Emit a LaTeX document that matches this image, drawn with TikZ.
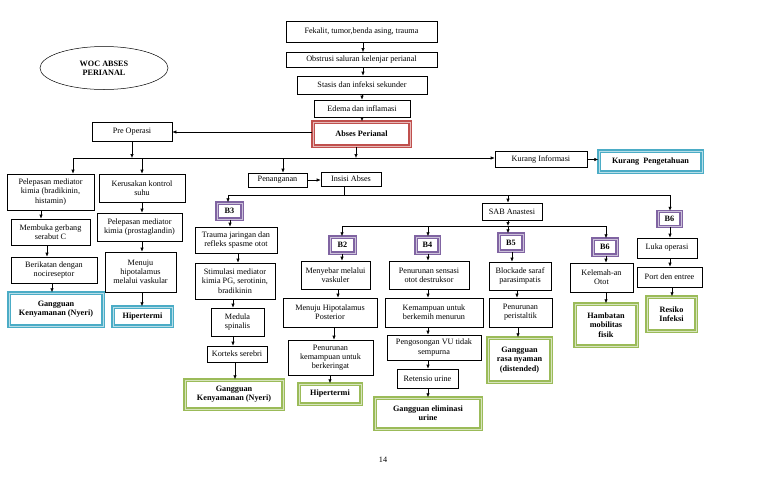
\documentclass[tikz,border=0pt]{standalone}
\usepackage{fontspec}
\setmainfont{Liberation Serif}
\usetikzlibrary{arrows.meta,shapes.geometric}
\definecolor{cred}{HTML}{C0504D}
\definecolor{cblue}{HTML}{4BACC6}
\definecolor{cgreen}{HTML}{9BBB59}
\definecolor{cpurple}{HTML}{8064A2}
\newcommand\fs{\fontsize{8.2pt}{9.2pt}\selectfont}
\newcommand\vconn[3]{\draw[arr] (#1,0 |- #2.south) -- (#1,0 |- #3.north);}
\begin{document}
\begin{tikzpicture}[x=1pt,y=-1pt,
  box/.style={draw=black, line width=0.6pt, align=center, inner sep=1pt, font=\fs, text=black},
  colbox/.style={box, draw=#1, line width=1.5pt, double=#1!40, double distance=0.9pt, font=\fs\bfseries},
  wh/.style 2 args={minimum width=#1pt, minimum height=#2pt},
  ell/.style={ellipse, draw, line width=0.5pt, minimum width=128pt, minimum height=43pt, font=\fs\bfseries, align=center, inner sep=0pt},
  arr/.style={-{Latex[length=4pt,width=3.4pt]}, line width=0.6pt},
  ln/.style={line width=0.6pt}]
\fill[white] (0,0) rectangle (768,501);
\useasboundingbox (0,0) rectangle (768,501);

% title
\node[ell] (woc) at (104,68) {WOC ABSES\\PERIANAL};

% top chain
\node[box, wh={151}{21}] (fek) at (361.5,31.5) {Fekalit, tumor,benda asing, trauma};
\node[box, wh={151}{15}] (obs) at (361.5,60) {Obstrusi saluran kelenjar perianal};
\node[box, wh={130}{18}] (sta) at (362,85) {Stasis dan infeksi sekunder};
\node[box, wh={96}{17}] (ede) at (362,108.5) {Edema dan inflamasi};
\node[colbox=cred, wh={97}{24}] (abs) at (361.5,134) {Abses Perianal};
\node[box, wh={80}{19}] (pre) at (132,132) {Pre Operasi};
\node[box, wh={92}{16}] (ki) at (541,159.5) {Kurang Informasi};
\node[colbox=cblue, wh={103}{21}] (kp) at (650.5,161.5) {Kurang\ \ Pengetahuan};

% left column 1
\node[box, wh={87}{36}] (pel1) at (50.5,192) {Pelepasan mediator\\kimia (bradikinin,\\histamin)};
\node[box, wh={79}{26}] (mem) at (50.5,232) {Membuka gerbang\\serabut C};
\node[box, wh={86}{26}] (ber) at (54,270) {Berikatan dengan\\nocireseptor};
\node[colbox=cblue, wh={94}{33}] (gk1) at (56,309.5) {Gangguan\\Kenyamanan (Nyeri)};

% left column 2
\node[box, wh={86}{28}] (ker) at (142,188) {Kerusakan kontrol\\suhu};
\node[box, wh={85}{28}] (pel2) at (139.5,227) {Pelepasan mediator\\kimia (prostaglandin)};
\node[box, wh={71}{40}] (men1) at (140.5,272) {Menuju\\hipotalamus\\melalui vaskular};
\node[colbox=cblue, wh={59}{19}] (hip1) at (142.5,316.5) {Hipertermi};

% penanganan
\node[box, wh={59}{14}] (pen) at (277.5,180) {Penanganan};
\node[box, wh={60}{14}] (ins) at (351,179) {Insisi Abses};

% B3
\node[colbox=cpurple, wh={25}{16}] (b3) at (229.5,211) {B3};
\node[box, wh={82}{26}] (tra) at (236,240) {Trauma jaringan dan\\refleks spasme otot};
\node[box, wh={80}{36}] (sti) at (235,281) {Stimulasi mediator\\kimia PG, serotinin,\\bradikinin};
\node[box, wh={53}{28}] (med) at (237.5,322) {Medula\\spinalis};
\node[box, wh={60}{16}] (kor) at (237,354) {Korteks serebri};
\node[colbox=cgreen, wh={98}{29}] (gk2) at (234,394.5) {Gangguan\\Kenyamanan (Nyeri)};

% B2
\node[colbox=cpurple, wh={25}{16}] (b2) at (342.5,245) {B2};
\node[box, wh={69}{28}] (mny) at (335.5,275) {Menyebar melalui\\vaskuler};
\node[box, wh={94}{29}] (mhp) at (330,312.5) {Menuju Hipotalamus\\Posterior};
\node[box, wh={85}{35}] (pkb) at (330.5,357.5) {Penurunan\\kemampuan untuk\\berkeringat};
\node[colbox=cgreen, wh={62}{20}] (hip2) at (330,394) {Hipertermi};

% B4
\node[colbox=cpurple, wh={23}{16}] (b4) at (427.5,245) {B4};
\node[box, wh={80}{28}] (pso) at (429,275) {Penurunan sensasi\\otot destruksor};
\node[box, wh={98}{29}] (kbm) at (434,312.5) {Kemampuan untuk\\berkemih menurun};
\node[box, wh={94}{25}] (pvu) at (434,347.5) {Pengosongan VU tidak\\sempurna};
\node[box, wh={61}{19}] (ret) at (427.5,378.5) {Retensio urine};
\node[colbox=cgreen, wh={106}{31}] (gel) at (428,413.5) {Gangguan eliminasi\\urine};

% SAB + B5
\node[box, wh={60}{17}] (sab) at (512,211.5) {SAB Anastesi};
\node[colbox=cpurple, wh={24}{17}] (b5) at (511,242.5) {B5};
\node[box, wh={62}{28}] (bsp) at (520,276) {Blockade saraf\\parasimpatis};
\node[box, wh={63}{29}] (pep) at (520.5,312.5) {Penurunan\\peristaltik};
\node[colbox=cgreen, wh={63}{44}] (grn) at (519.5,360) {Gangguan\\rasa nyaman\\(distended)};

% B6 middle
\node[colbox=cpurple, wh={24}{16}] (b6m) at (605,247) {B6};
\node[box, wh={63}{29}] (kel) at (601.5,277.5) {Kelemah-an\\Otot};
\node[colbox=cgreen, wh={62}{42}] (hmf) at (606,325) {Hambatan\\mobilitas\\fisik};

% B6 right
\node[colbox=cpurple, wh={23}{15}] (b6r) at (669.5,219) {B6};
\node[box, wh={60}{20}] (luk) at (667,248) {Luka operasi};
\node[box, wh={65}{20}] (pde) at (669.5,277) {Port den entree};
\node[colbox=cgreen, wh={49}{34}] (rin) at (671.5,314) {Resiko\\Infeksi};

% page number
\node[font=\fs] (pg) at (383,460) {14};

% ---- connectors ----
\vconn{363}{fek}{obs}
\vconn{363}{obs}{sta}
\vconn{362}{sta}{ede}
\vconn{362}{ede}{abs}
\draw[arr] (abs.west |- pre.east) -- (pre.east);

\coordinate (b1L) at (73,158);
\coordinate (b1a) at (142,158);
\coordinate (b1b) at (283,158);
\draw[arr] (b1L) -- (b1L -| ki.west);
\draw[arr] (pre.south) -- (pre.south |- b1L);
\draw[arr] (356,0 |- abs.south) -- (356,0 |- b1L);
\draw[arr] (b1L) -- (b1L |- pel1.north);
\draw[arr] (b1a) -- (b1a |- ker.north);
\draw[arr] (b1b) -- (b1b |- pen.north);
\draw[arr] (ki.east) -- (ki.east -| kp.west);
\draw[arr] (pen.east) -- (pen.east -| ins.west);

\vconn{41}{pel1}{mem}
\vconn{47}{mem}{ber}
\vconn{52}{ber}{gk1}
\vconn{142}{ker}{pel2}
\vconn{142}{pel2}{men1}
\vconn{142}{men1}{hip1}

% bus 2
\coordinate (b2L) at (228,195);
\coordinate (b2s) at (508,195);
\coordinate (b2R) at (670,195);
\draw[ln] (344,0 |- ins.south) -- (344,195);
\draw[ln] (b2L) -- (b2R);
\draw[arr] (b2L) -- (b2L |- b3.north);
\draw[arr] (b2s) -- (b2s |- sab.north);
\draw[arr] (b2R) -- (b2R |- b6r.north);

% bus 3
\coordinate (b3L) at (342,226);
\coordinate (b3a) at (428,226);
\coordinate (b3s) at (508,226);
\coordinate (b3R) at (606,226);
\draw[arr] (b3s |- sab.south) -- (b3s);
\draw[ln] (b3L) -- (b3R);
\draw[arr] (b3L) -- (b3L |- b2.north);
\draw[arr] (b3a) -- (b3a |- b4.north);
\draw[arr] (b3s) -- (b3s |- b5.north);
\draw[arr] (b3R) -- (b3R |- b6m.north);

\vconn{230}{b3}{tra}
\vconn{238}{tra}{sti}
\vconn{233}{sti}{med}
\vconn{233}{med}{kor}
\vconn{235}{kor}{gk2}

\vconn{342}{b2}{mny}
\vconn{338}{mny}{mhp}
\vconn{334}{mhp}{pkb}
\vconn{330}{pkb}{hip2}

\vconn{428}{b4}{pso}
\vconn{428}{pso}{kbm}
\vconn{428}{kbm}{pvu}
\vconn{428}{pvu}{ret}
\vconn{428}{ret}{gel}

\vconn{512}{b5}{bsp}
\vconn{517}{bsp}{pep}
\vconn{518}{pep}{grn}

\vconn{606}{b6m}{kel}
\vconn{606}{kel}{hmf}

\vconn{670}{b6r}{luk}
\vconn{670}{luk}{pde}
\vconn{672}{pde}{rin}
\end{tikzpicture}
\end{document}
